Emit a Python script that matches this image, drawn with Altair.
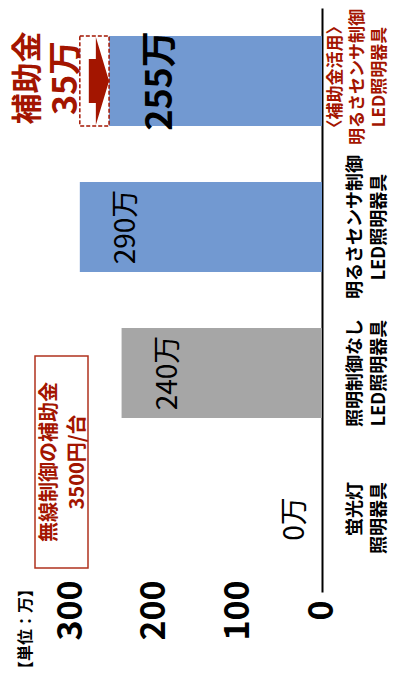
import altair as alt
import pandas as pd

FONT = "Noto Sans CJK JP"
RED = "#A31500"
BOX_RED = "#B0321E"

# ---- data (original chart order, left to right) ----
categories = [
    "蛍光灯\n照明器具",
    "照明制御なし\nLED照明器具",
    "明るさセンサ制御\nLED照明器具",
    "〈補助金活用〉\n明るさセンサ制御\nLED照明器具",
]
values = [0, 240, 290, 255]
value_ticks = [0, 100, 200, 300]
unit_label = "【単位：万】"
note_lines = ["無線制御の補助金", "3500円/台"]
subsidy_title = "補助金"

df = pd.DataFrame({"category": categories, "value": values})
df["label"] = df["value"].astype(str) + "万"

sub_df = pd.DataFrame({
    "category": [categories[3]],
    "before": [values[2]],
    "after": [values[3]],
})
sub_df["amount"] = (sub_df["before"] - sub_df["after"]).astype(str) + "万"
sub_df["title"] = subsidy_title

note_df = pd.DataFrame({"note": ["\n".join(note_lines)], "unit": [unit_label]})

order = categories[::-1]  # top to bottom

x_scale = alt.Scale(domain=[0, 376], reverse=True, nice=False, zero=True)
y_scale = alt.Scale(domain=order, paddingInner=0.384, paddingOuter=0.192)

x_axis = alt.Axis(
    values=value_ticks, title=None, domain=False, ticks=False, tickSize=0,
    grid=False, labelAngle=270, labelAlign="center", labelBaseline="middle",
    labelPadding=18, labelFontSize=34, labelFontWeight="bold",
    labelColor="black", labelFont=FONT,
)
y_axis = alt.Axis(
    orient="right", title=None, domain=True, domainColor="black",
    domainWidth=2, ticks=False, tickSize=0, grid=False, labels=False,
)

base = alt.Chart(df)

bars = base.mark_bar().encode(
    x=alt.X("value:Q", scale=x_scale, axis=x_axis),
    y=alt.Y("category:N", scale=y_scale, sort=order, axis=y_axis),
    color=alt.Color(
        "category:N",
        scale=alt.Scale(domain=categories,
                        range=["#A6A6A6", "#A6A6A6", "#7299D1", "#7299D1"]),
        legend=None,
    ),
)

# category labels (rotated, multi-line)
cat_top = base.transform_filter(
    "indexof(datum.category, '補助金') >= 0"
).mark_text(
    angle=270, align="center", baseline="top", dx=4, lineBreak="\n",
    lineHeight=22, fontSize=17, fontWeight="bold", font=FONT, color=RED,
).encode(x=alt.value(320), y="category:N", text="category:N")

cat_mid = base.transform_filter(
    "indexof(datum.category, '補助金') < 0 && indexof(datum.category, '蛍光灯') < 0"
).mark_text(
    angle=270, align="center", baseline="top", lineBreak="\n",
    lineHeight=24, fontSize=18, fontWeight="bold", font=FONT, color="black",
).encode(x=alt.value(339), y="category:N", text="category:N")

cat_low = base.transform_filter(
    "indexof(datum.category, '蛍光灯') >= 0"
).mark_text(
    angle=270, align="right", baseline="top", dx=37, lineBreak="\n",
    lineHeight=24, fontSize=18, fontWeight="bold", font=FONT, color="black",
).encode(x=alt.value(339), y="category:N", text="category:N")

# value labels
lab_main = base.transform_filter(
    "datum.value > 0 && indexof(datum.category, '補助金') < 0"
).mark_text(
    angle=270, align="center", baseline="middle", dy=47, fontSize=28,
    font=FONT, color="black",
).encode(x="value:Q", y="category:N", text="label:N")

lab_top = base.transform_filter(
    "indexof(datum.category, '補助金') >= 0"
).mark_text(
    angle=270, align="center", baseline="middle", dy=52, fontSize=36,
    fontWeight="bold", font=FONT, color="black",
).encode(x="value:Q", y="category:N", text="label:N")

lab_zero = base.transform_filter("datum.value == 0").mark_text(
    angle=270, align="center", baseline="middle", dy=-26, fontSize=28,
    font=FONT, color="black",
).encode(x="value:Q", y="category:N", text="label:N")

sub = alt.Chart(sub_df)
dash_box = sub.mark_rect(
    filled=False, stroke=RED, strokeWidth=1.5, strokeDash=[4, 2],
).encode(x="before:Q", x2="after:Q", y="category:N")

arrow = sub.mark_point(
    shape="M-0.46,-0.5 L-0.3,-0.5 L-0.3,-1 L0,0 L-0.3,1 L-0.3,0.5 L-0.46,0.5 Z",
    size=7744, filled=True, color=RED, opacity=1, strokeWidth=0,
).encode(x="after:Q", y="category:N")

sub_title = sub.mark_text(
    angle=270, align="center", baseline="middle", fontSize=31, dx=3,
    fontWeight="bold", font=FONT, color=RED,
).encode(x=alt.value(21), y="category:N", text="title:N")

sub_amount = sub.mark_text(
    angle=270, align="center", baseline="middle", fontSize=34, dx=3,
    fontWeight="bold", font=FONT, color=RED,
).encode(x=alt.value(59), y="category:N", text="amount:N")

note = alt.Chart(note_df)
note_box = note.mark_rect(
    filled=False, stroke=BOX_RED, strokeWidth=1.5,
).encode(x=alt.value(27), x2=alt.value(80), y=alt.value(348), y2=alt.value(560))

note_text = note.mark_text(
    angle=270, align="center", baseline="middle", fontSize=20,
    fontWeight="bold", font=FONT, color=RED, lineBreak="\n", lineHeight=28,
).encode(x=alt.value(42), y=alt.value(454), text="note:N")

unit_text = note.mark_text(
    angle=270, align="center", baseline="middle", fontSize=16,
    fontWeight="bold", font=FONT, color="black",
).encode(x=alt.value(18), y=alt.value(621), text="unit:N")

chart = alt.layer(
    bars, cat_top, cat_mid, cat_low, lab_main, lab_top, lab_zero, dash_box,
    arrow, sub_title, sub_amount, note_box, note_text, unit_text,
).properties(
    width=314, height=584,
    padding={"left": 0, "top": 0, "right": 67, "bottom": 86},
    autosize=alt.AutoSizeParams(type="none"),
).configure_view(stroke=None)

chart.save("out.html", embed_options={"renderer": "svg", "actions": False})
